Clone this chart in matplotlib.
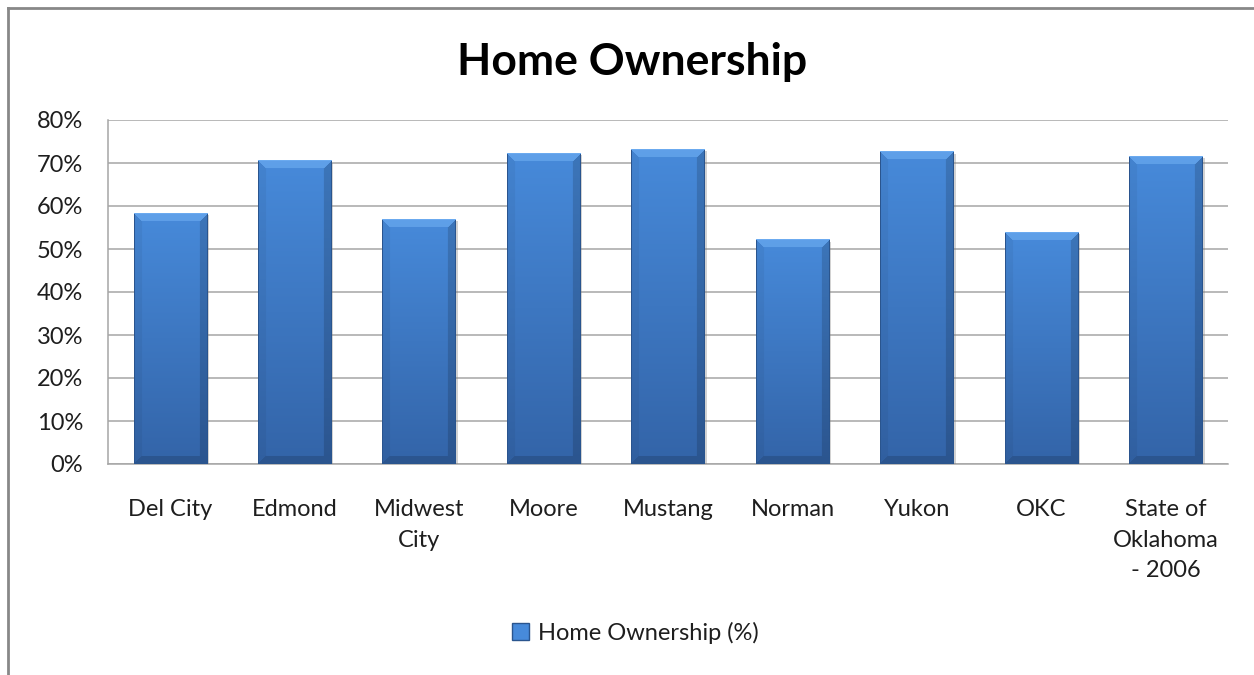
import numpy as np
import matplotlib.pyplot as plt
from matplotlib.patches import Patch
from matplotlib.lines import Line2D
from matplotlib import patheffects as pe

plt.rcParams['font.family'] = ['Lato', 'DejaVu Sans']

categories = ['Del City', 'Edmond', 'Midwest\nCity', 'Moore', 'Mustang',
              'Norman', 'Yukon', 'OKC', 'State of\nOklahoma\n- 2006']
ownership = [58.3, 70.5, 56.9, 72.3, 73.2, 52.1, 72.6, 53.9, 71.6]
y_ticks = [0, 10, 20, 30, 40, 50, 60, 70, 80]
y_labels = ['0%', '10%', '20%', '30%', '40%', '50%', '60%', '70%', '80%']
series_name = 'Home Ownership (%)'

TOP = np.array([0x47, 0x8A, 0xDA]) / 255
BOTTOM = np.array([0x33, 0x64, 0xA8]) / 255
BEVEL_LIGHT = np.array([0x6C, 0xAB, 0xF0]) / 255
EDGE = np.array([0x2A, 0x55, 0x8E]) / 255
GRID = '#a6a6a6'


def bar_image(w, h, b=8):
    """Vertical gradient with a bevelled edge, w x h pixels."""
    i = np.arange(h)[:, None].astype(float)
    j = np.arange(w)[None, :].astype(float)
    t = (i / max(h - 1, 1))[..., None]
    img = TOP + (BOTTOM - TOP) * t
    img = np.broadcast_to(img, (h, w, 3)).copy()

    d = np.stack(np.broadcast_arrays(i, h - 1 - i, j, w - 1 - j))
    nearest = d.min(axis=0)
    side = d.argmin(axis=0)
    in_bevel = nearest < b

    top = in_bevel & (side == 0)
    bot = in_bevel & (side == 1)
    left = in_bevel & (side == 2)
    right = in_bevel & (side == 3)

    img[top] = img[top] * 0.35 + BEVEL_LIGHT * 0.65
    img[left] = img[left] * 0.95
    img[right] = img[right] * 0.85
    img[bot] = img[bot] * 0.85

    # thin dark outline
    rim = nearest < 1
    img[rim & ~top] = EDGE
    img[rim & top] = BEVEL_LIGHT
    return np.clip(img, 0, 1)


fig = plt.figure(figsize=(12.54, 6.75), dpi=100)
ax = fig.add_axes([108 / 1254, 1 - 464 / 675, 1120 / 1254, 344 / 675])

x = np.arange(len(categories))
bars = ax.bar(x, ownership, width=0.59, color=TOP, zorder=3,
              path_effects=[pe.SimplePatchShadow(offset=(1.5, -1.5), shadow_rgbFace='#808080', alpha=0.35),
                            pe.Normal()])

ax.set_xlim(-0.5, len(categories) - 0.5)
ax.set_ylim(0, 80)

# paint each bar with a bevelled gradient
to_px = ax.transData
for rect, val in zip(bars, ownership):
    x0, x1 = rect.get_x(), rect.get_x() + rect.get_width()
    (px0, py0), (px1, py1) = to_px.transform([(x0, 0), (x1, val)])
    w = max(int(round(px1 - px0)), 2)
    h = max(int(round(py1 - py0)), 2)
    ax.imshow(bar_image(w, h), extent=(x0, x1, 0, val), aspect='auto',
              interpolation='bilinear', zorder=4)

ax.set_xlim(-0.5, len(categories) - 0.5)
ax.set_ylim(0, 80)

ax.set_yticks(y_ticks)
ax.set_yticklabels(y_labels)
ax.set_xticks(x)
ax.set_xticklabels(categories, linespacing=1.58)
ax.tick_params(axis='y', length=0, pad=18, labelsize=17, labelcolor='#1e1e1e')
ax.tick_params(axis='x', length=0, pad=25, labelsize=17, labelcolor='#1e1e1e')
ax.grid(axis='y', color=GRID, linewidth=1.1, zorder=0)
ax.set_axisbelow(True)
for s in ('top', 'right'):
    ax.spines[s].set_visible(False)
for s in ('left', 'bottom'):
    ax.spines[s].set_color(GRID)
    ax.spines[s].set_linewidth(1.1)

fig.text(632 / 1254, 1 - 75 / 675, 'Home Ownership', ha='center', va='baseline',
         fontsize=32, fontweight='bold', color='black')

handle = Patch(facecolor=TOP, edgecolor=EDGE, linewidth=1)
fig.legend([handle], [series_name], loc='center', bbox_to_anchor=(635 / 1254, 1 - 633 / 675),
           frameon=False, fontsize=17, handlelength=0.75, handleheight=0.75,
           handletextpad=0.35, labelcolor='#1e1e1e')

# chart frame (top and left edges)
fig.add_artist(Line2D([8 / 1254, 8 / 1254], [0, 1 - 8 / 675], transform=fig.transFigure,
                      color='#888888', linewidth=2))
fig.add_artist(Line2D([8 / 1254, 1], [1 - 8 / 675, 1 - 8 / 675], transform=fig.transFigure,
                      color='#888888', linewidth=2))

fig.savefig('out.png', dpi=100)
